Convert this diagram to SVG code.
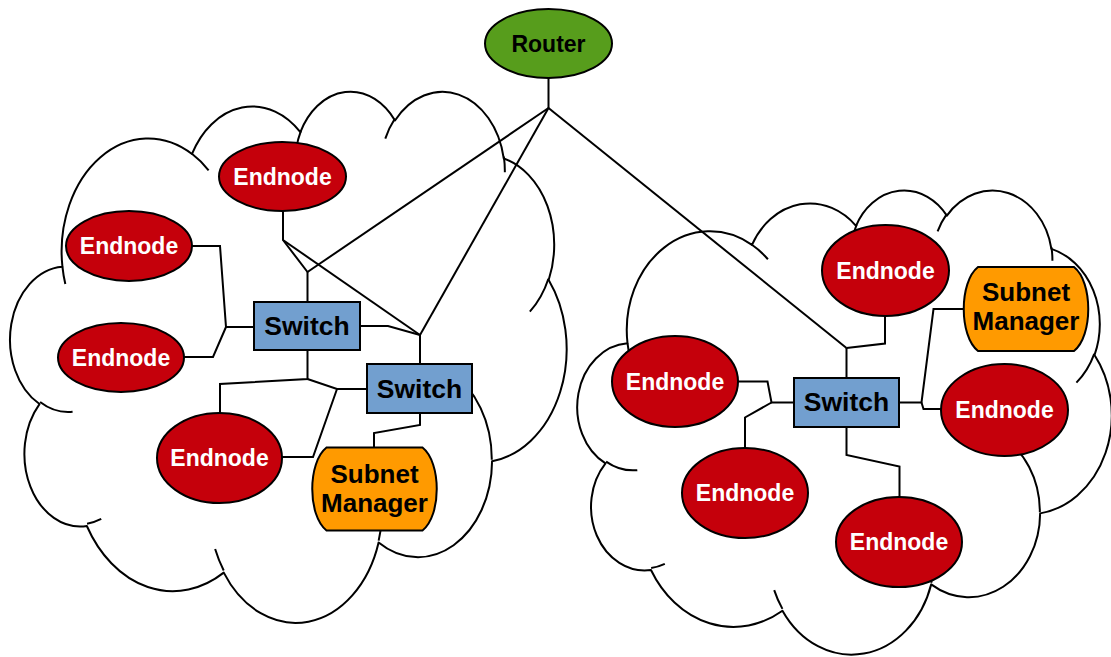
<svg xmlns="http://www.w3.org/2000/svg" width="1111" height="657" viewBox="0 0 1111 657">
  <style>
    .cloud { fill: #ffffff; stroke: #000000; stroke-width: 2; vector-effect: non-scaling-stroke; stroke-linejoin: round; }
    .hook { fill: none; stroke: #000000; stroke-width: 2; vector-effect: non-scaling-stroke; }
    .link { fill: none; stroke: #000000; stroke-width: 2; stroke-linejoin: miter; }
    .endnode { fill: #c5000b; stroke: #000000; stroke-width: 2; }
    .router { fill: #579d1c; stroke: #000000; stroke-width: 2; }
    .switch { fill: #729fcf; stroke: #000000; stroke-width: 2; }
    .sm { fill: #ff9a00; stroke: #000000; stroke-width: 2; }
    .lbl { font-family: "Liberation Sans", Arial, sans-serif; font-weight: bold; text-anchor: middle; }
    .lbl-en { font-size: 23px; fill: #ffffff; }
    .lbl-rt { font-size: 23px; fill: #000000; }
    .lbl-sw { font-size: 26.5px; fill: #000000; }
    .lbl-sm { font-size: 26px; fill: #000000; }
  </style>
  <defs>
    <!-- cloud outline in a 43200 x 43200 unit box -->
    <g id="cloud">
      <path class="cloud" d="M3900,14370 A6753,9190 0 0 1 14005.6,5202.3 A5333,7267 0 0 1 22456.4,3432.2 A4365,5945 0 0 1 29833.2,2479.1 A4857,6595 0 0 1 38318.4,5574.5 A5333,7273 0 0 1 41818.7,15458.4 A6775,9220 0 0 1 37403.9,30200.5 A5785,7867 0 0 1 28555.7,36810.9 A6752,9215 0 0 1 16481.3,39264.1 A7720,10543 0 0 1 5804.7,35469.5 A4360,5918 0 0 1 2112.4,25549.1 A4345,5945 0 0 1 3900,14370 Z"/>
      <path class="hook" d="M4693,26177 A4345,5945 0 0 1 2159.1,25379.4 M6928,34899 A4360,5918 0 0 1 5819.5,35280.5 M16478,39090 A6752,9215 0 0 1 15809.1,37348 M28827,34751 A6752,9215 0 0 1 28560.4,36660 M34129,22954 A5785,7867 0 0 1 37380.5,30089.7 M41798,15354 A5333,7273 0 0 1 40349.9,18029.9 M38324,5426 A4857,6595 0 0 1 38400.4,6689.6 M29078,3952 A4857,6595 0 0 1 29819.9,2339.2 M22141,4720 A4365,5945 0 0 1 22499.8,3331.1 M14000,5192 A6753,9190 0 0 1 15299.3,6540.1 M4127,15789 A6753,9190 0 0 1 3900.4,14371"/>
    </g>
  </defs>

  <rect width="1111" height="657" fill="#ffffff"/>

  <!-- subnets -->
  <g id="subnet-left">
    <use href="#cloud" transform="translate(12.4,90) scale(0.012824,0.012292)"/>
  </g>
  <g id="subnet-right">
    <use href="#cloud" transform="translate(579.5,189) scale(0.012315,0.010741)"/>
  </g>

  <!-- links -->
  <g id="connectors" class="link">
    <path class="link" d="M548.5,78 L548.5,108"/>
    <path class="link" d="M548.5,108 L307.5,272"/>
    <path class="link" d="M548.5,108 L420,335"/>
    <path class="link" d="M548.5,108 L846.5,348"/>
    <path class="link" d="M307.5,272 L307.5,302"/>
    <path class="link" d="M283,211 L283,240 L307.5,272"/>
    <path class="link" d="M283,240 L420,335"/>
    <path class="link" d="M420,335 L420,364"/>
    <path class="link" d="M360,326 L388,326 L420,335"/>
    <path class="link" d="M192,246 L220,246 L226,327 L254,327"/>
    <path class="link" d="M184,357 L213,357 L226,327"/>
    <path class="link" d="M307.5,350 L307.5,379 L220,384 L220,413"/>
    <path class="link" d="M307.5,379 L337,389 L367,389"/>
    <path class="link" d="M337,389 L313,457 L282,457"/>
    <path class="link" d="M420,413 L420,425 L374,433 L374,447.5"/>
    <path class="link" d="M846.5,348 L846.5,378"/>
    <path class="link" d="M846.5,348 L885,343.5 L885,316"/>
    <path class="link" d="M794,402.5 L771.5,402.5 L767.5,381.5 L738,381.5"/>
    <path class="link" d="M771.5,402.5 L745,417.5 L745,448"/>
    <path class="link" d="M846.5,427 L846.5,455 L899.5,466.5 L899.5,497"/>
    <path class="link" d="M899,402.5 L921.5,402.5 L933.5,309 L963,309"/>
    <path class="link" d="M921.5,402.5 L923.5,409 L942,409"/>
  </g>

  <!-- router -->
  <g id="router">
    <ellipse class="router" cx="548.5" cy="43.5" rx="63.5" ry="34.5"/>
    <text class="lbl lbl-rt" x="548.5" y="52">Router</text>
  </g>

  <!-- left subnet nodes -->
  <g id="endnode-l1">
    <ellipse class="endnode" cx="282.5" cy="176.5" rx="63.5" ry="34.5"/>
    <text class="lbl lbl-en" x="282.5" y="184.5">Endnode</text>
  </g>
  <g id="endnode-l2">
    <ellipse class="endnode" cx="129" cy="246" rx="63" ry="35"/>
    <text class="lbl lbl-en" x="129" y="254">Endnode</text>
  </g>
  <g id="endnode-l3">
    <ellipse class="endnode" cx="121" cy="357.5" rx="63" ry="34.5"/>
    <text class="lbl lbl-en" x="121" y="365.5">Endnode</text>
  </g>
  <g id="endnode-l4">
    <ellipse class="endnode" cx="219.5" cy="458" rx="62.5" ry="45"/>
    <text class="lbl lbl-en" x="219.5" y="466">Endnode</text>
  </g>
  <g id="switch-l1">
    <rect class="switch" x="254" y="302" width="106" height="48"/>
    <text class="lbl lbl-sw" x="307" y="335">Switch</text>
  </g>
  <g id="switch-l2">
    <rect class="switch" x="367" y="364" width="105" height="49"/>
    <text class="lbl lbl-sw" x="419.5" y="398">Switch</text>
  </g>
  <g id="subnet-manager-l">
    <path class="sm" d="M326.5,447.5 H422.5 C441.5,462.5 441.5,515.5 422.5,530.5 H326.5 C307.5,515.5 307.5,462.5 326.5,447.5 Z"/>
    <text class="lbl lbl-sm" x="374.5" y="482.5">Subnet</text>
    <text class="lbl lbl-sm" x="374.5" y="511.5">Manager</text>
  </g>

  <!-- right subnet nodes -->
  <g id="endnode-r1">
    <ellipse class="endnode" cx="885.5" cy="270.5" rx="63.5" ry="45.5"/>
    <text class="lbl lbl-en" x="885.5" y="278.5">Endnode</text>
  </g>
  <g id="endnode-r2">
    <ellipse class="endnode" cx="675" cy="381.5" rx="63" ry="45.5"/>
    <text class="lbl lbl-en" x="675" y="389.5">Endnode</text>
  </g>
  <g id="endnode-r3">
    <ellipse class="endnode" cx="1004.5" cy="410" rx="63.5" ry="46"/>
    <text class="lbl lbl-en" x="1004.5" y="418">Endnode</text>
  </g>
  <g id="endnode-r4">
    <ellipse class="endnode" cx="745" cy="493" rx="63" ry="45"/>
    <text class="lbl lbl-en" x="745" y="501">Endnode</text>
  </g>
  <g id="endnode-r5">
    <ellipse class="endnode" cx="899" cy="542" rx="63" ry="45"/>
    <text class="lbl lbl-en" x="899" y="550">Endnode</text>
  </g>
  <g id="switch-r">
    <rect class="switch" x="794" y="378" width="105" height="49"/>
    <text class="lbl lbl-sw" x="846.5" y="411">Switch</text>
  </g>
  <g id="subnet-manager-r">
    <path class="sm" d="M978,267 H1074 C1093,282 1093,336 1074,351 H978 C959,336 959,282 978,267 Z"/>
    <text class="lbl lbl-sm" x="1026" y="301">Subnet</text>
    <text class="lbl lbl-sm" x="1026" y="330">Manager</text>
  </g>
</svg>
